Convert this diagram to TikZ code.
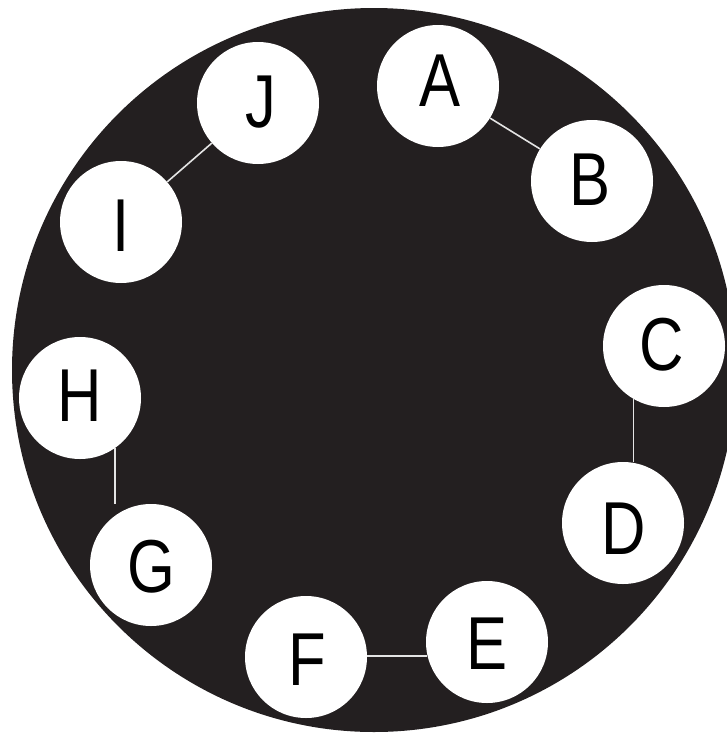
\documentclass[tikz,border=0pt]{standalone}
\usepackage{fontspec}
\setmainfont{Liberation Sans}
\definecolor{disc}{HTML}{231F20}
\definecolor{link}{HTML}{E4E4E4}
\tikzset{
  seat/.style={circle,fill=white,minimum size=122pt,inner sep=0pt},
  tie/.style={draw=link,line width=1.6pt}
}
\begin{document}
\begin{tikzpicture}[x=1pt,y=-1pt,font=\fontsize{75}{80}\selectfont]
\path[use as bounding box] (0,0) rectangle (727,734);
\clip (0,0) rectangle (727,734);
\fill[disc] (374,370) circle (362);
% seats, then the letter a bit off centre as in the drawing
\foreach \n/\x/\y/\dx/\dy in {A/438/86/2/-5,B/592/181/-2/-1,C/664/346/-2/-1,D/623/523/1/6,E/487/642/0/2,F/306/657/1/3,G/151/565/0/2,H/80/398/0/-2,I/121/222/0/4,J/258/103/3/-1}{
  \node[seat] (\n) at (\x,\y) {};
  \node at (\x+\dx,\y+\dy) {\scalebox{.82}[1]{\n}};
}
\draw[tie] (A) -- (B);
\draw[tie] (J) -- (I);
\draw[tie] (C.-120) -- (C.-120 |- D.north);
\draw[tie] (E.193) -- (E.193 -| F.east);
\draw[tie] (H.-55) -- (H.-55 |- G.north);
\end{tikzpicture}
\end{document}
